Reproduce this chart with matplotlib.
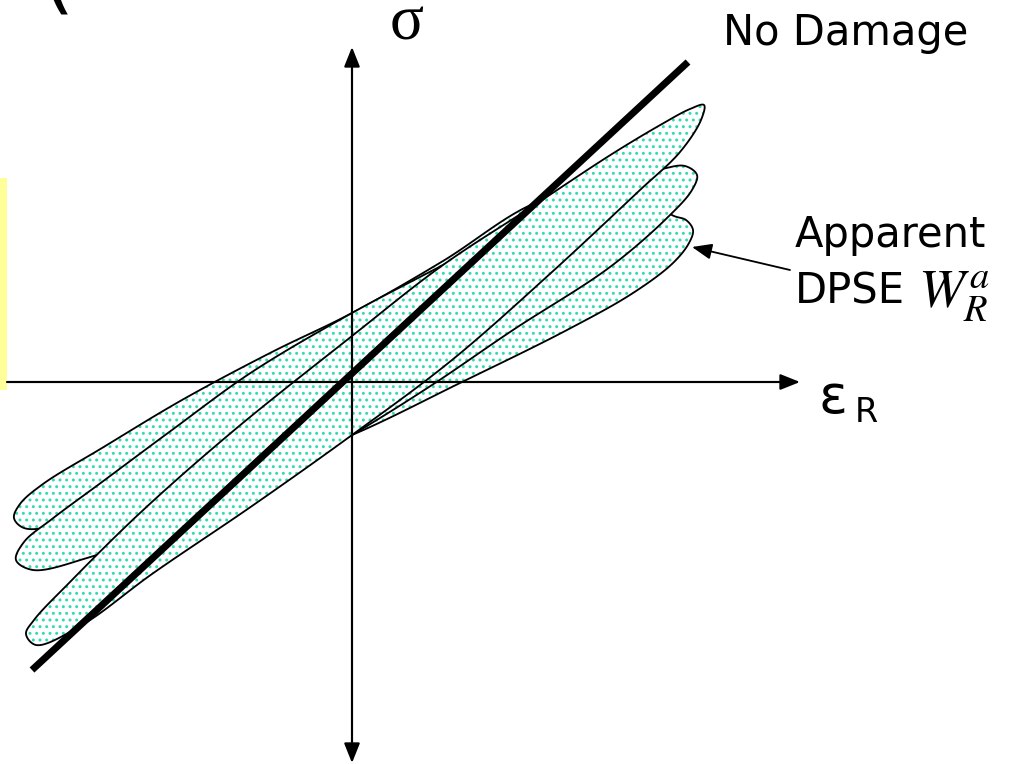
import numpy as np
import matplotlib.pyplot as plt
from matplotlib.patches import Polygon, Rectangle

plt.rcParams['font.family'] = ['DejaVu Sans']
plt.rcParams['hatch.linewidth'] = 1.0

# hysteresis loops in (strain, stress), traced from the lower-left tip
# along the upper branch, round the upper-right tip and back
loop1_strain = [-316, -326, -318, -282, -212, -120, 0, 91, 181, 260, 310,
                338, 352, 349, 328, 288, 200, 100, 0, -100, -200, -270]
loop1_stress = [-263, -252, -238, -200, -131, -50, 46, 117, 176, 228, 258,
                273, 277, 262, 230, 192, 110, 22, -53, -124, -192, -243]

loop2_strain = [-319, -336, -328, -300, -250, -180, -100, 0, 91, 188, 258,
                310, 333, 345, 340, 316, 258, 161, 80, 0, -100, -200, -265]
loop2_stress = [-188, -178, -160, -137, -100, -48, 10, 69, 117, 168, 198,
                213, 216, 207, 192, 165, 115, 52, -3, -53, -110, -152, -176]

loop3_strain = [-328, -338, -332, -309, -250, -170, -80, 0, 91, 181, 250,
                300, 322, 334, 341, 337, 321, 281, 215, 108, 0, -100, -200,
                -290]
loop3_stress = [-146, -136, -122, -102, -66, -18, 30, 69, 121, 178, 195,
                178, 166, 162, 152, 139, 119, 89, 52, -1, -53, -90, -120,
                -143]

# undamaged response
no_damage_strain = [-320, 336]
no_damage_stress = [-288, 320]

teal = '#34d9b4'


def closed_spline(xs, ys, n=24):
    # closed centripetal Catmull-Rom curve through the traced points
    P = np.column_stack([xs, ys]).astype(float)
    N = len(P)
    out = []
    for i in range(N):
        p0, p1, p2, p3 = P[i - 1], P[i], P[(i + 1) % N], P[(i + 2) % N]
        t0 = 0.0
        t1 = t0 + np.linalg.norm(p1 - p0) ** 0.5
        t2 = t1 + np.linalg.norm(p2 - p1) ** 0.5
        t3 = t2 + np.linalg.norm(p3 - p2) ** 0.5
        t = np.linspace(t1, t2, n, endpoint=False)[:, None]
        a1 = (t1 - t) / (t1 - t0) * p0 + (t - t0) / (t1 - t0) * p1
        a2 = (t2 - t) / (t2 - t1) * p1 + (t - t1) / (t2 - t1) * p2
        a3 = (t3 - t) / (t3 - t2) * p2 + (t - t2) / (t3 - t2) * p3
        b1 = (t2 - t) / (t2 - t0) * a1 + (t - t0) / (t2 - t0) * a2
        b2 = (t3 - t) / (t3 - t1) * a2 + (t - t1) / (t3 - t1) * a3
        out.append((t2 - t) / (t2 - t1) * b1 + (t - t1) / (t2 - t1) * b2)
    return np.vstack(out)


fig = plt.figure(figsize=(1011 / 120, 764 / 120), dpi=120)
ax = fig.add_axes([0, 0, 1, 1])
ax.set_xlim(-352, 659)
ax.set_ylim(-382, 382)
ax.axis('off')

ax.add_patch(Rectangle((-352, -8), 7, 212, facecolor='#ffff99', lw=0))

loops = [(loop3_strain, loop3_stress), (loop2_strain, loop2_stress),
         (loop1_strain, loop1_stress)]
for k, (xs, ys) in enumerate(loops):
    pts = closed_spline(xs, ys)
    z = 1 + k
    ax.add_patch(Polygon(pts, closed=True, facecolor='white', edgecolor=teal,
                         hatch='...', lw=0, zorder=z))
    ax.add_patch(Polygon(pts, closed=True, fill=False, edgecolor='black',
                         lw=1.1, zorder=z + 0.5))

# axes
ax.annotate('', xy=(448, 0), xytext=(-345, 0), zorder=5,
            arrowprops=dict(arrowstyle='-|>,head_length=0.5,head_width=0.2',
                            mutation_scale=20, lw=1.3, color='black',
                            shrinkA=0, shrinkB=0))
ax.annotate('', xy=(0, 335), xytext=(0, -381), zorder=5,
            arrowprops=dict(arrowstyle='<|-|>,head_length=0.5,head_width=0.2',
                            mutation_scale=20, lw=1.3, color='black',
                            shrinkA=0, shrinkB=0))

ax.plot(no_damage_strain, no_damage_stress, color='black', lw=4.2,
        solid_capstyle='butt', zorder=6)

# labels
ax.text(-310, 378, '(', fontsize=50, va='baseline', ha='left')
ax.text(55, 342, 'σ', fontsize=38, family='Liberation Serif',
        ha='center', va='baseline')
ax.text(371, 337, 'No Damage', fontsize=25, va='baseline', ha='left')
ax.text(443, 135, 'Apparent', fontsize=25, va='baseline', ha='left')
ax.text(443, 79, 'DPSE', fontsize=25, va='baseline', ha='left')
ax.text(566, 75, r'$W_R^a$', fontsize=33, math_fontfamily='stix',
        va='baseline', ha='left')
ax.text(467, -31, 'ε', fontsize=32, va='baseline', ha='left')
ax.text(503, -40, 'R', fontsize=20, va='baseline', ha='left')

ax.annotate('', xy=(340, 135), xytext=(438, 112), zorder=7,
            arrowprops=dict(arrowstyle='-|>,head_length=0.5,head_width=0.2',
                            mutation_scale=20, lw=1.1, color='black',
                            shrinkA=0, shrinkB=0))

fig.savefig('out.png', dpi=120)
